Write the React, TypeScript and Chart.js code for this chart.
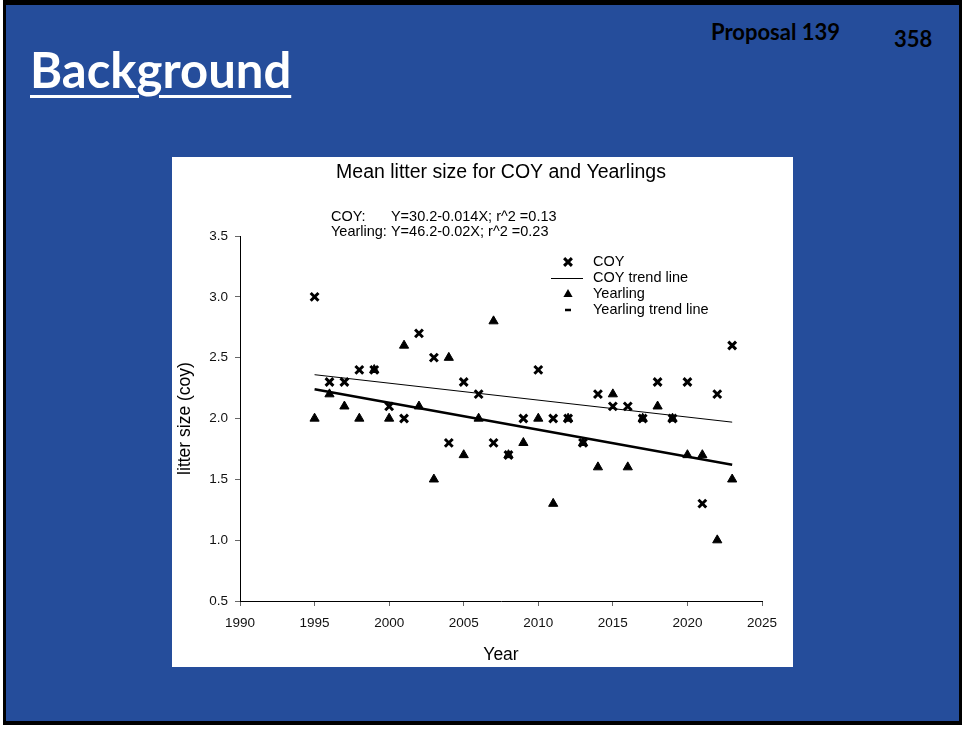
import React, { useEffect, useRef } from "react";
import { Chart, registerables } from "chart.js";

Chart.register(...registerables);

const years = [1995, 1996, 1997, 1998, 1999, 2000, 2001, 2002, 2003, 2004, 2005, 2006, 2007, 2008, 2009, 2010, 2011, 2012, 2013, 2014, 2015, 2016, 2017, 2018, 2019, 2020, 2021, 2022, 2023];
const coyValues = [3.0, 2.3, 2.3, 2.4, 2.4, 2.1, 2.0, 2.7, 2.5, 1.8, 2.3, 2.2, 1.8, 1.7, 2.0, 2.4, 2.0, 2.0, 1.8, 2.2, 2.1, 2.1, 2.0, 2.3, 2.0, 2.3, 1.3, 2.2, 2.6];
const yearlingValues = [2.0, 2.2, 2.1, 2.0, 2.4, 2.0, 2.6, 2.1, 1.5, 2.5, 1.7, 2.0, 2.8, 1.7, 1.8, 2.0, 1.3, 2.0, 1.8, 1.6, 2.2, 1.6, 2.0, 2.1, 2.0, 1.7, 1.7, 1.0, 1.5];
const trendYears = [1995, 2023];
const coyTrend = [2.36, 1.97];
const yearlingTrend = [2.24, 1.62];
const xTicks = [1990, 1995, 2000, 2005, 2010, 2015, 2020, 2025];
const yTicks = [0.5, 1.0, 1.5, 2.0, 2.5, 3.0, 3.5];
const chartTitle = "Mean litter size for COY and Yearlings";
const coyEquationLabel = "COY:";
const coyEquation = "Y=30.2-0.014X; r^2 =0.13";
const yearlingEquationLabel = "Yearling: ";
const yearlingEquation = "Y=46.2-0.02X; r^2 =0.23";
const legendLabels = ["COY", "COY trend line", "Yearling", "Yearling trend line"];
const xTitle = "Year";
const yTitle = "litter size (coy)";
const slideTitle = "Background";
const proposalText = "Proposal 139";
const pageNumber = "358";

const FONT = "'Liberation Sans', Arial, sans-serif";

const overlayPlugin = {
  id: "overlay",
  afterDraw(chart: any) {
    const ctx = chart.ctx as CanvasRenderingContext2D;
    const area = chart.chartArea;
    ctx.save();
    ctx.fillStyle = "#000";
    // title
    ctx.font = `19.5px ${FONT}`;
    ctx.textAlign = "center";
    ctx.textBaseline = "middle";
    ctx.fillText(chartTitle, (area.left + area.right) / 2, 16);
    // equations
    ctx.font = `14.5px ${FONT}`;
    ctx.textAlign = "left";
    const ex = 159;
    const yOff = ctx.measureText(yearlingEquationLabel).width;
    ctx.fillText(coyEquationLabel, ex, 60);
    ctx.fillText(coyEquation, ex + yOff, 60);
    ctx.fillText(yearlingEquationLabel + yearlingEquation, ex, 75);
    // legend
    const mx = 396;
    const tx = 421;
    const rows = [105, 121, 137, 153];
    legendLabels.forEach((t, i) => ctx.fillText(t, tx, rows[i]));
    ctx.strokeStyle = "#000";
    // crossRot marker
    ctx.lineWidth = 3;
    const r = 5.5 * Math.SQRT1_2;
    ctx.beginPath();
    ctx.moveTo(mx - r, rows[0] - r);
    ctx.lineTo(mx + r, rows[0] + r);
    ctx.moveTo(mx - r, rows[0] + r);
    ctx.lineTo(mx + r, rows[0] - r);
    ctx.stroke();
    // COY trend line sample
    ctx.lineWidth = 1;
    ctx.beginPath();
    ctx.moveTo(379, rows[1] + 0.5);
    ctx.lineTo(411, rows[1] + 0.5);
    ctx.stroke();
    // triangle marker
    ctx.beginPath();
    ctx.moveTo(mx, rows[2] - 5);
    ctx.lineTo(mx + 4.6, rows[2] + 3);
    ctx.lineTo(mx - 4.6, rows[2] + 3);
    ctx.closePath();
    ctx.fill();
    // yearling trend sample
    ctx.lineWidth = 2.5;
    ctx.beginPath();
    ctx.moveTo(mx - 3, rows[3]);
    ctx.lineTo(mx + 3, rows[3]);
    ctx.stroke();
    ctx.restore();
  },
};

function ChartPanel() {
  const ref = useRef<HTMLCanvasElement | null>(null);
  useEffect(() => {
    if (!ref.current) return;
    const chart = new Chart(ref.current, {
      type: "scatter",
      data: {
        datasets: [
          {
            label: "COY",
            data: years.map((x, i) => ({ x, y: coyValues[i] })),
            pointStyle: "crossRot",
            pointRadius: 5.5,
            pointBorderWidth: 3,
            borderColor: "#000",
            backgroundColor: "#000",
          },
          {
            label: "Yearling",
            data: years.map((x, i) => ({ x, y: yearlingValues[i] })),
            pointStyle: "triangle",
            pointRadius: 5.3,
            pointBorderWidth: 1,
            borderColor: "#000",
            backgroundColor: "#000",
          },
          {
            label: "COY trend line",
            data: trendYears.map((x, i) => ({ x, y: coyTrend[i] })),
            showLine: true,
            pointRadius: 0,
            borderWidth: 1,
            borderColor: "#000",
          },
          {
            label: "Yearling trend line",
            data: trendYears.map((x, i) => ({ x, y: yearlingTrend[i] })),
            showLine: true,
            pointRadius: 0,
            borderWidth: 2.5,
            borderColor: "#000",
          },
        ],
      } as any,
      options: {
        animation: false,
        responsive: false,
        layout: { padding: { top: 79, right: 31, left: 0, bottom: 0 } },
        plugins: { legend: { display: false }, tooltip: { enabled: false }, title: { display: false } },
        scales: {
          x: {
            type: "linear",
            min: 1990,
            max: 2025,
            afterBuildTicks: (s: any) => {
              s.ticks = xTicks.map((v) => ({ value: v }));
            },
            afterFit: (s: any) => {
              s.height = 66;
            },
            ticks: {
              callback: (v: any) => String(v),
              font: { family: FONT, size: 13.5 },
              color: "#111",
              padding: 9,
              maxRotation: 0,
            },
            grid: { display: true, drawOnChartArea: false, drawTicks: true, tickLength: 5, color: "#666" },
            border: { display: true, color: "#000", width: 1 },
            title: { display: true, text: xTitle, font: { family: FONT, size: 17.5 }, color: "#000", padding: { top: 0, bottom: 1.5 } },
          },
          y: {
            type: "linear",
            min: 0.5,
            max: 3.5,
            afterBuildTicks: (s: any) => {
              s.ticks = yTicks.map((v) => ({ value: v }));
            },
            afterFit: (s: any) => {
              s.width = 68;
            },
            ticks: {
              callback: (v: any) => Number(v).toFixed(1),
              font: { family: FONT, size: 13.5 },
              color: "#111",
              padding: 7,
            },
            grid: { display: true, drawOnChartArea: false, drawTicks: true, tickLength: 5, color: "#666" },
            border: { display: true, color: "#000", width: 1 },
            title: { display: true, text: yTitle, font: { family: FONT, size: 17.5 }, color: "#000", padding: { top: 3, bottom: 0 } },
          },
        },
      } as any,
      plugins: [overlayPlugin],
    });
    return () => chart.destroy();
  }, []);
  return <canvas ref={ref} width={621} height={510} style={{ display: "block" }} />;
}

export default function App() {
  return (
    <div style={{ position: "absolute", left: 0, top: 0, width: 965, height: 730, background: "#fff", overflow: "hidden" }}>
      <div style={{ position: "absolute", left: 3, top: 0, width: 959, height: 725, background: "#000" }} />
      <div style={{ position: "absolute", left: 6, top: 5, width: 953, height: 716, background: "#254d9b" }} />
      <div
        style={{
          position: "absolute",
          left: 30,
          top: 41,
          fontFamily: "Lato, 'Open Sans', sans-serif",
          fontWeight: 700,
          fontSize: 49,
          lineHeight: "56px",
          color: "#fff",
          textDecoration: "underline",
          textDecorationThickness: "3px",
          textUnderlineOffset: "7px",
          whiteSpace: "nowrap",
        }}
      >
        {slideTitle}
      </div>
      <div style={{ position: "absolute", left: 711, top: 20, fontFamily: "Lato, sans-serif", fontWeight: 700, fontSize: 22, lineHeight: "24px", color: "#000", whiteSpace: "nowrap" }}>
        {proposalText}
      </div>
      <div style={{ position: "absolute", left: 894, top: 27, fontFamily: "Lato, sans-serif", fontWeight: 700, fontSize: 22, lineHeight: "24px", color: "#000" }}>
        {pageNumber}
      </div>
      <div style={{ position: "absolute", left: 172, top: 157, width: 621, height: 510, background: "#fff" }}>
        <ChartPanel />
      </div>
    </div>
  );
}
